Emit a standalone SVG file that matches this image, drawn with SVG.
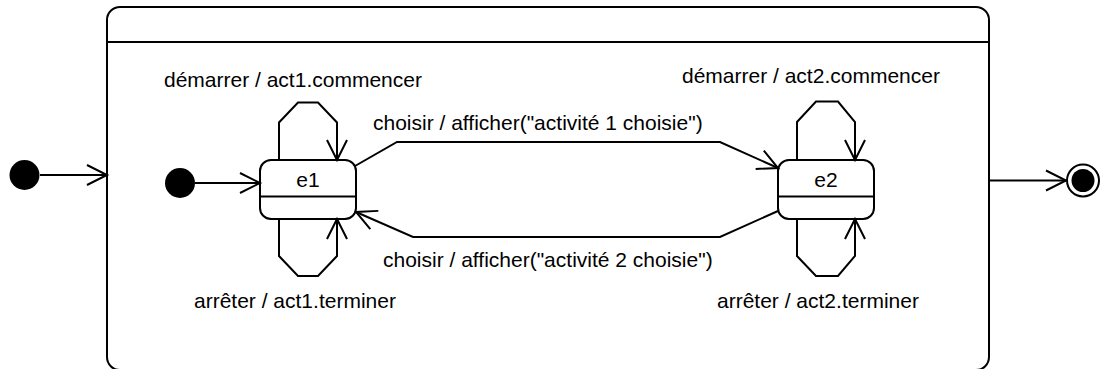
<svg xmlns="http://www.w3.org/2000/svg" width="1101" height="369" viewBox="0 0 1101 369">
<style>
  .ln{fill:none;stroke:#000;stroke-width:2;stroke-linejoin:miter}
  .box{fill:#fff;stroke:#000;stroke-width:2}
  .dot{fill:#000;stroke:none}
  text{font-family:"Liberation Sans",Arial,Helvetica,sans-serif;font-size:21px;fill:#000}
  .mid{text-anchor:middle}
</style>
<defs>
  <marker id="arr" viewBox="-22 -12 24 24" refX="0" refY="0" markerWidth="24" markerHeight="24" markerUnits="userSpaceOnUse" orient="auto" overflow="visible">
    <path d="M-20,-10 L0,0 L-20,10" fill="none" stroke="#000" stroke-width="2"/>
  </marker>
</defs>
<rect width="1101" height="369" fill="#fff"/>

<g id="composite">
  <rect class="box" x="107" y="7" width="882" height="363" rx="13" ry="13"/>
  <line class="ln" x1="107" y1="42" x2="989" y2="42"/>
</g>

<g id="initial-outer">
  <circle class="dot" cx="24.5" cy="175" r="15"/>
</g>

<g id="initial-inner">
  <circle class="dot" cx="180" cy="183" r="15"/>
</g>

<g id="e1">
  <rect class="box" x="260" y="160" width="96" height="59" rx="11" ry="11"/>
  <line class="ln" x1="260" y1="196.5" x2="356" y2="196.5"/>
  <text class="mid" x="308" y="187">e1</text>
</g>

<g id="e2">
  <rect class="box" x="778" y="160" width="96" height="59" rx="11" ry="11"/>
  <line class="ln" x1="778" y1="196.5" x2="874" y2="196.5"/>
  <text class="mid" x="826" y="187">e2</text>
</g>

<g id="final">
  <circle cx="1083" cy="180.5" r="16" fill="#fff" stroke="#000" stroke-width="2"/>
  <circle class="dot" cx="1083" cy="180.5" r="11.5"/>
</g>

<g id="connectors">
  <path class="ln" d="M40,175 L107,175" marker-end="url(#arr)"/>
  <path class="ln" d="M195,183 L260,183" marker-end="url(#arr)"/>
  <path class="ln" d="M989,180.5 L1066,180.5" marker-end="url(#arr)"/>

  <path class="ln" d="M279,160 L279,122.5 L298,102.5 L318,102.5 L337,122.5 L337,160" marker-end="url(#arr)"/>
  <path class="ln" d="M279,219 L279,256 L298,276 L318,276 L337,256 L337,219" marker-end="url(#arr)"/>
  <path class="ln" d="M797,160 L797,122 L816,101.5 L838,101.5 L855,122 L855,160" marker-end="url(#arr)"/>
  <path class="ln" d="M797,219 L797,256 L816,276 L838,276 L855,256 L855,219" marker-end="url(#arr)"/>

  <path class="ln" d="M355,166 L397,142 L720,142 L778,168" marker-end="url(#arr)"/>
  <path class="ln" d="M778,211 L720,237 L413,237 L356,212" marker-end="url(#arr)"/>

  <text x="164" y="87">démarrer / act1.commencer</text>
  <text x="194" y="308">arrêter / act1.terminer</text>
  <text x="682" y="83">démarrer / act2.commencer</text>
  <text x="717" y="308">arrêter / act2.terminer</text>
  <text x="373" y="130">choisir / afficher("activité 1 choisie")</text>
  <text x="383" y="267">choisir / afficher("activité 2 choisie")</text>
</g>
</svg>
